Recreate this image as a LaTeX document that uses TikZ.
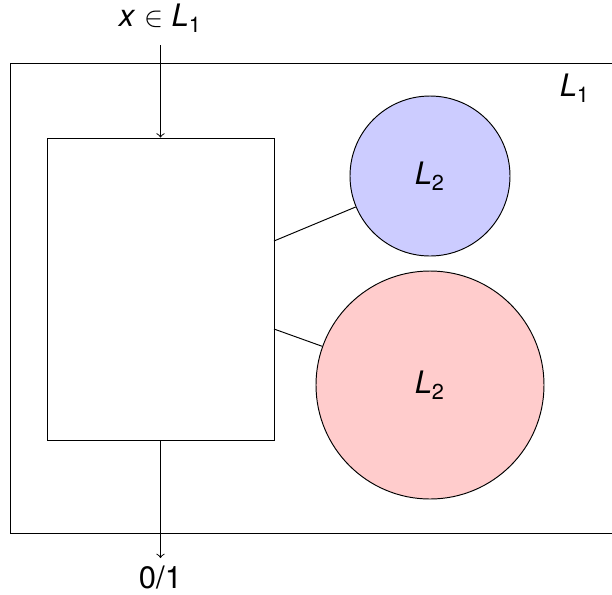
\documentclass[tikz,border=0pt]{standalone}
\usepackage{fontspec}
\setmainfont{TeX Gyre Heros}
\usetikzlibrary{positioning}
\begin{document}
\begin{tikzpicture}
    [x=0.42pt,y=-0.42pt,font=\fontsize{13}{15}\selectfont,
    machinebox/.style={draw,minimum width=227*0.42pt,minimum height=302*0.42pt,inner sep=0pt},
    oracle/.style={draw,circle,inner sep=0pt},
    flow/.style={->,>=to}]
    \useasboundingbox (0,0) rectangle (612,594);
    %language L1
    \draw (10,63) rectangle (614,533);
    \node[anchor=center] (lone) at (575,88) {\textit{L}\textsubscript{1}};
    %machine
    \node[machinebox] (machine) at (160.5,289) {};
    %oracles
    \node[oracle,fill=blue!20,minimum size=160*0.42pt] (small) at (430,176) {\textit{L}\textsubscript{2}};
    \node[oracle,fill=red!20,minimum size=228*0.42pt] (big) at (430,385) {\textit{L}\textsubscript{2}};
    \coordinate (qa) at (274,241);
    \coordinate (qb) at (274,329);
    \draw (qa) -- (small);
    \draw (qb) -- (big);
    %input and output
    \node (input) at (160.5,18) {\textit{x} $\in$ \textit{L}\textsubscript{1}};
    \node (output) at (160.5,578) {0/1};
    \draw[flow,shorten <=2pt] (input.south) -- (machine.north);
    \draw[flow] (machine.south) -- (output.north);
\end{tikzpicture}
\end{document}
